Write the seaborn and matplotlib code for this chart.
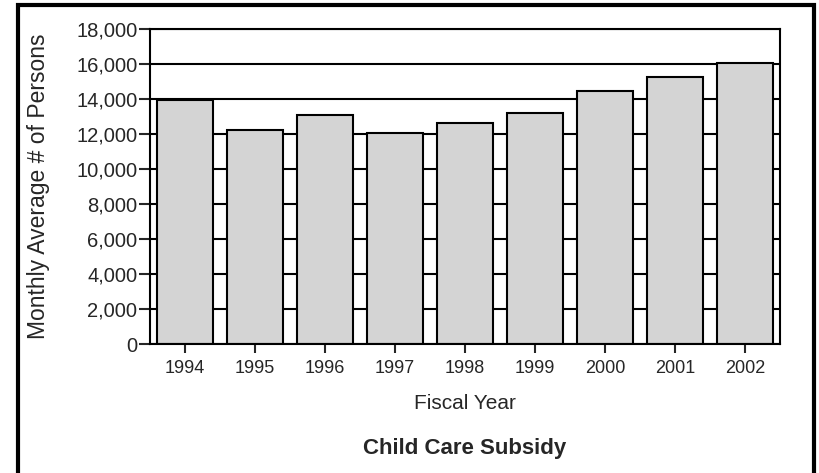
import numpy as np
import pandas as pd
import matplotlib
matplotlib.use("Agg")
import matplotlib.pyplot as plt
from matplotlib.patches import Rectangle
from matplotlib.ticker import FuncFormatter
import seaborn as sns

# Data
years = ["1994", "1995", "1996", "1997", "1998", "1999", "2000", "2001", "2002"]
persons = [13950, 12200, 13100, 12050, 12650, 13200, 14470, 15270, 16070]

df = pd.DataFrame({"Fiscal Year": years, "Persons": persons})

sns.set_style("white")
plt.rcParams["font.family"] = ["Liberation Sans", "DejaVu Sans"]

fig = plt.figure(figsize=(8.19, 4.73), dpi=100)
ax = fig.add_axes([150 / 819, 1 - 344 / 473, 630 / 819, 315 / 473])

sns.barplot(data=df, x="Fiscal Year", y="Persons", color="#d4d4d4",
            saturation=1, edgecolor="black", linewidth=1.5, width=0.8, ax=ax)

ax.set_xlim(-0.5, len(years) - 0.5)
ax.set_ylim(0, 18000)
ax.set_yticks(np.arange(0, 18001, 2000))
ax.yaxis.set_major_formatter(FuncFormatter(lambda v, p: f"{int(v):,}"))

# black gridlines behind the bars
ax.set_axisbelow(True)
ax.yaxis.grid(True, color="black", linewidth=1.5)
ax.xaxis.grid(False)

for s in ax.spines.values():
    s.set_color("black")
    s.set_linewidth(1.5)
    s.set_visible(True)

ax.tick_params(axis="y", direction="out", length=8, width=1.5, pad=1,
               labelsize=14.5, left=True)
ax.tick_params(axis="x", direction="out", length=6.5, width=1.5, pad=5,
               labelsize=13, bottom=True)

ax.set_ylabel("Monthly Average # of Persons", fontsize=16.5)
ax.yaxis.set_label_coords(-0.158, 0.5)
ax.set_xlabel("Fiscal Year", fontsize=15)
ax.xaxis.set_label_coords(0.5, -0.16)

fig.text(465 / 819, 1 - 448 / 473, "Child Care Subsidy", ha="center",
         va="center", fontsize=16, fontweight="bold")

# outer frame, bottom edge runs off the canvas
fig.add_artist(Rectangle((18 / 819, -0.05), 796 / 819, 1.05 - 5 / 473,
                         fill=False, edgecolor="black", linewidth=3,
                         transform=fig.transFigure, clip_on=False))

fig.savefig("out.png", dpi=100)
